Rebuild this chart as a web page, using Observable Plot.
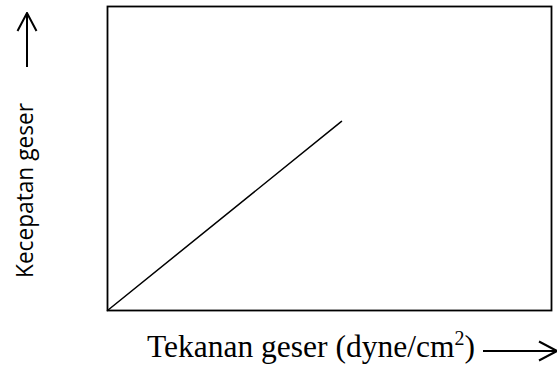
<!DOCTYPE html>
<html><head><meta charset="utf-8">
<script src="https://cdn.jsdelivr.net/npm/d3@7"></script>
<script src="https://cdn.jsdelivr.net/npm/@observablehq/plot@0.6"></script>
<style>body{margin:0;background:#fff}</style>
</head><body><div id="chart"></div>
<script>
const shearStress = [0, 5.27];
const shearRate = [0, 6.22];
const xLabel = "Tekanan geser (dyne/cm";
const xLabelSup = "2";
const yLabel = "Kecepatan geser";

const data = shearStress.map((x, i) => ({x, y: shearRate[i]}));

const W = 557, H = 367;
const plot = Plot.plot({
  width: W, height: H,
  marginLeft: 107, marginTop: 6, marginRight: 6, marginBottom: 57,
  x: {domain: [0, 10], axis: null},
  y: {domain: [0, 10], axis: null},
  style: {background: "#fff"},
  marks: [
    Plot.frame({stroke: "#000", strokeWidth: 1.8}),
    Plot.line(data, {x: "x", y: "y", stroke: "#000", strokeWidth: 1.5})
  ]
});
document.getElementById("chart").appendChild(plot);

const svg = d3.select(plot);
const defs = svg.append("defs");
defs.append("marker").attr("id", "ah").attr("viewBox", "0 0 20 22")
  .attr("refX", 19).attr("refY", 11).attr("markerWidth", 20).attr("markerHeight", 22)
  .attr("markerUnits", "userSpaceOnUse").attr("orient", "auto")
  .append("path").attr("d", "M1,1.5 L19,11 L1,20.5").attr("fill", "none")
  .attr("stroke", "#000").attr("stroke-width", 2);

// y label
svg.append("text").attr("transform", "translate(33,190.5) rotate(-90)")
  .attr("style", "font-family:'Open Sans',sans-serif;font-size:23px;text-anchor:middle;fill:#000")
  .attr("textLength", 175).attr("lengthAdjust", "spacingAndGlyphs")
  .text(yLabel);
svg.append("line").attr("x1", 27).attr("y1", 67).attr("x2", 27).attr("y2", 13)
  .attr("stroke", "#000").attr("stroke-width", 2).attr("marker-end", "url(#ah)");

// x label
const t = svg.append("text").attr("x", 147).attr("y", 357)
  .attr("style", "font-family:'Liberation Serif','Times New Roman',serif;font-size:31.5px;text-anchor:start;fill:#000");
t.append("tspan").text(xLabel);
t.append("tspan").attr("dy", -12).attr("style", "font-size:20px").text(xLabelSup);
t.append("tspan").attr("dy", 12).text(")");
svg.append("line").attr("x1", 483).attr("y1", 351).attr("x2", 557).attr("y2", 351)
  .attr("stroke", "#000").attr("stroke-width", 2).attr("marker-end", "url(#ah)");
</script></body></html>
